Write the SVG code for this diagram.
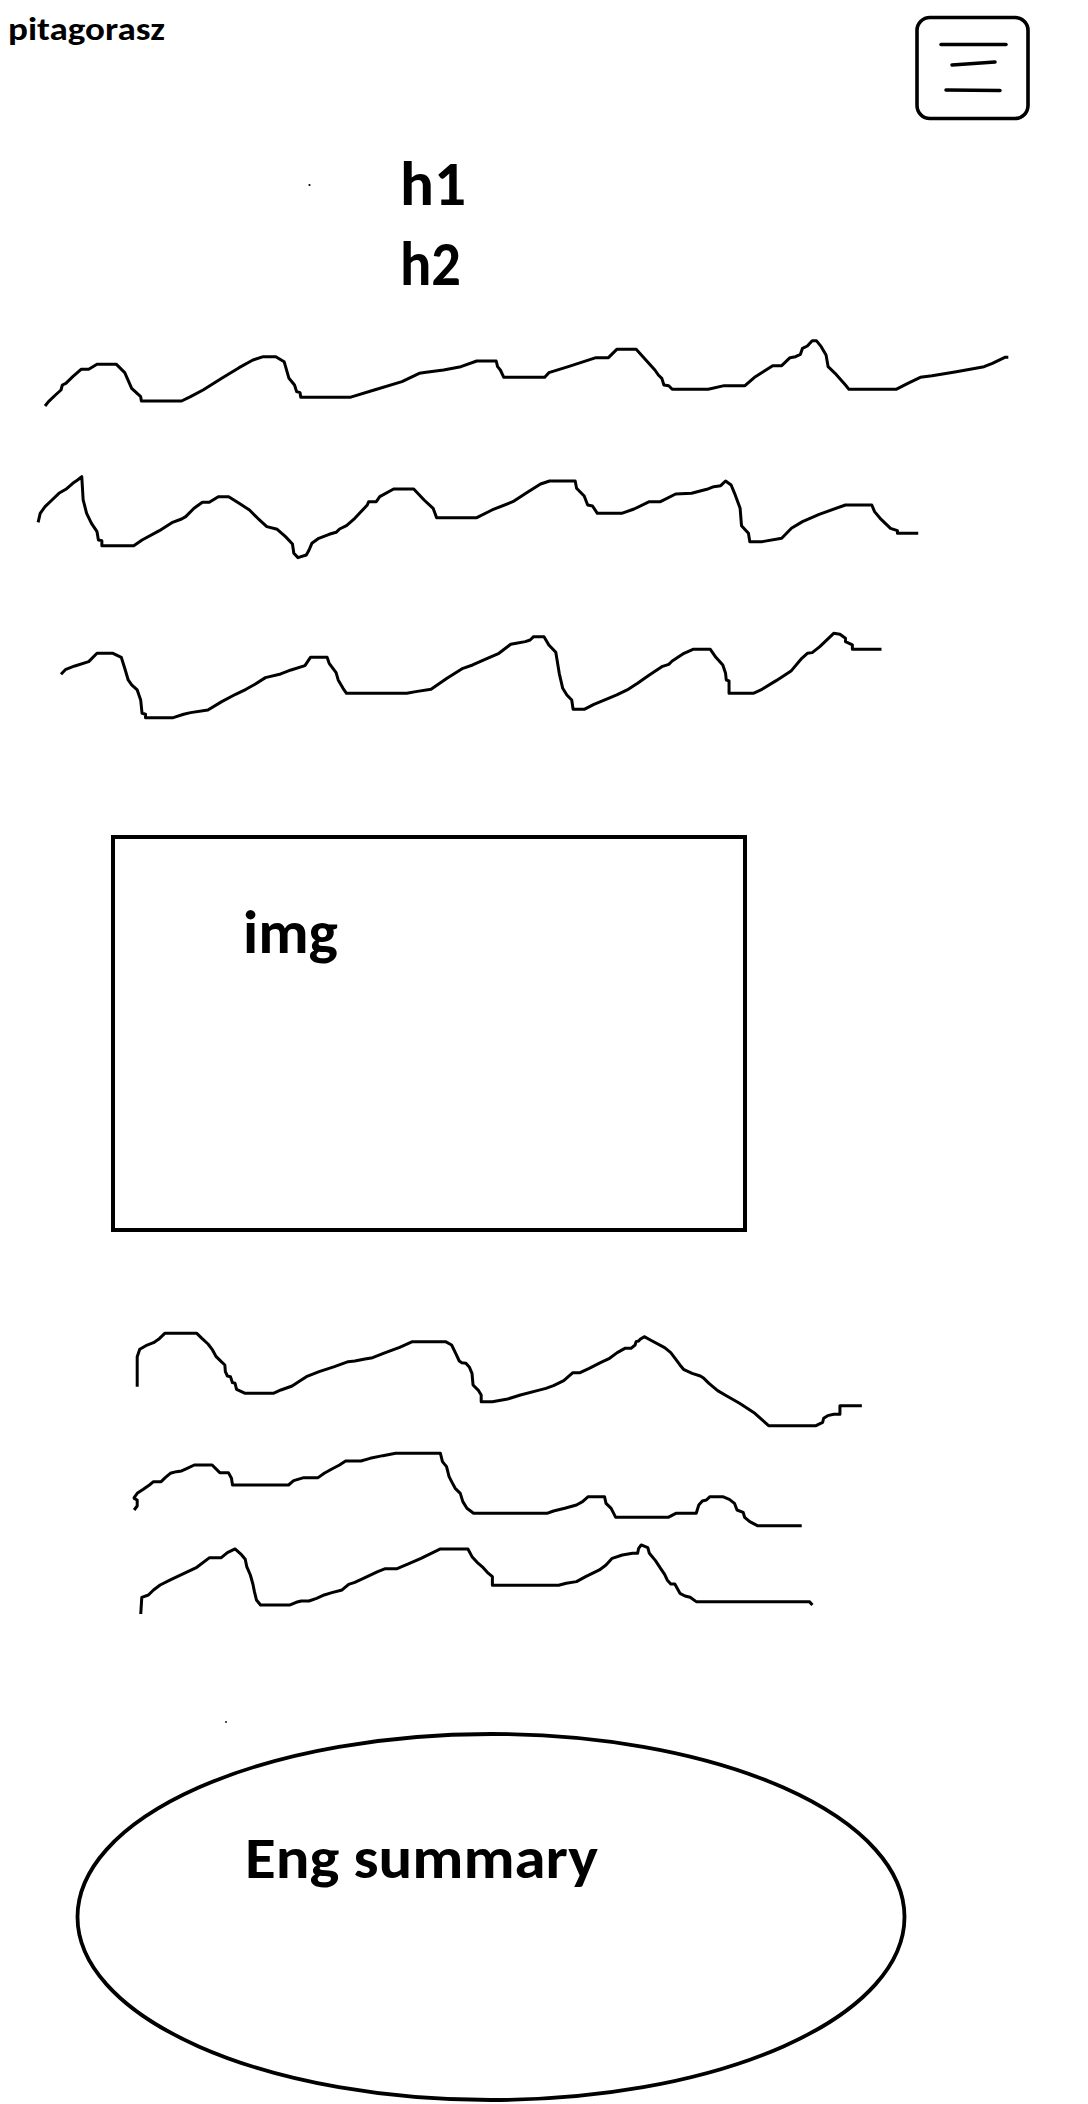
<svg xmlns="http://www.w3.org/2000/svg" width="1088" height="2104" viewBox="0 0 1088 2104">
<style>
.bg{fill:#ffffff}
.lbl{font-family:"Carlito","Lato","Liberation Sans",sans-serif;font-weight:700;fill:#000000}
.box{fill:none;stroke:#000000;stroke-width:4}
.scrib{fill:none;stroke:#000000;stroke-width:3;stroke-linejoin:round;stroke-linecap:butt;vector-effect:non-scaling-stroke}
.bar{fill:none;stroke:#000000;stroke-width:3.5;stroke-linecap:round}
</style>
<rect class="bg" x="0" y="0" width="1088" height="2104"/>

<g id="logo">
<text class="lbl" x="8" y="40" font-size="33" textLength="157" lengthAdjust="spacingAndGlyphs">pitagorasz</text>
</g>

<g id="menu">
<rect x="917" y="17.5" width="111" height="101" rx="13" ry="13" fill="none" stroke="#000" stroke-width="3.6"/>
<line class="bar" x1="941" y1="44.5" x2="1006" y2="44.5"/>
<line class="bar" x1="952" y1="65" x2="995" y2="62"/>
<line class="bar" x1="946" y1="90" x2="1000" y2="90.5"/>
</g>

<g id="h1">
<text class="lbl" x="400" y="205" font-size="62" textLength="66" lengthAdjust="spacingAndGlyphs">h1</text>
</g>
<g id="h2">
<text class="lbl" x="400" y="285" font-size="62" textLength="61" lengthAdjust="spacingAndGlyphs">h2</text>
</g>

<g id="dots">
<circle cx="309.5" cy="185" r="1.1" fill="#000"/>
<circle cx="226" cy="1722" r="0.9" fill="#000"/>
</g>

<g id="text-block-1" transform="translate(0,320) scale(0.693,0.3333)">
<path class="scrib" d="M65,258 L70,245 80,225 88,210 90,195 95,190 105,170 117,148 128,148 140,133 168,133 180,158 190,205 203,230 204,243 262,243 275,230 293,210 320,175 345,143 365,120 380,110 398,110 410,125 417,175 425,195 428,215 433,218 434,232 505,232 540,210 580,185 605,160 615,157 640,150 665,140 688,123 716,123 718,140 722,150 727,172 786,172 792,158 820,140 860,113 878,113 890,88 918,88 945,150 950,165 955,175 958,195 965,197 970,208 1022,208 1045,197 1075,197 1090,170 1115,137 1128,137 1140,113 1148,110 1155,103 1158,85 1165,78 1172,62 1178,62 1185,80 1192,105 1195,140 1205,160 1220,195 1225,208 1293,208 1310,190 1328,172 1345,167 1380,155 1420,140 1432,130 1450,112 1455,112"/>
<path class="scrib" d="M55,607 L58,580 65,560 75,540 85,520 95,508 105,490 112,480 118,470 120,540 125,580 132,610 140,635 142,660 147,662 147,677 193,677 205,660 230,632 248,608 262,597 268,590 280,565 292,547 302,547 315,530 330,530 345,550 360,570 372,595 385,620 400,628 412,650 422,672 424,700 430,713 442,705 446,690 450,670 460,655 475,643 485,637 490,627 500,617 512,595 530,555 532,545 543,545 548,530 568,507 597,507 612,540 625,565 630,593 688,593 710,570 740,545 760,518 780,492 793,483 830,483 832,505 843,528 848,555 855,558 862,580 897,580 915,567 937,545 953,545 975,522 998,520 1020,508 1030,500 1040,497 1047,483 1055,495 1060,520 1068,565 1070,617 1080,640 1082,665 1100,665 1128,655 1142,625 1158,605 1182,583 1220,555 1258,555 1262,575 1270,595 1285,625 1295,632 1295,640 1325,640"/>
<path class="scrib" d="M88,1063 L95,1048 108,1038 128,1025 140,1000 163,1000 175,1012 180,1045 185,1080 190,1095 198,1110 203,1140 205,1180 210,1183 210,1193 250,1193 265,1183 275,1178 300,1170 320,1145 340,1123 355,1108 368,1093 383,1073 405,1062 420,1050 440,1037 448,1012 472,1012 475,1030 485,1058 488,1080 495,1105 500,1120 587,1120 600,1115 622,1108 645,1075 668,1045 682,1035 700,1018 720,1000 737,973 745,970 758,965 765,960 770,950 785,950 792,975 802,997 807,1060 812,1105 818,1125 825,1140 827,1168 843,1168 857,1153 878,1135 890,1125 905,1110 920,1090 937,1065 955,1040 965,1033 970,1023 987,1000 1000,988 1025,988 1033,1012 1043,1035 1047,1060 1048,1080 1052,1083 1052,1120 1087,1120 1098,1110 1120,1082 1142,1052 1157,1015 1165,1000 1172,998 1183,980 1203,940 1212,943 1220,955 1220,965 1230,975 1230,988 1272,988"/>
</g>

<g id="image">
<rect class="box" x="113" y="837" width="632" height="393"/>
<text class="lbl" x="243" y="953" font-size="61" textLength="95" lengthAdjust="spacingAndGlyphs">img</text>
</g>

<g id="text-block-2" transform="translate(100,1310) scale(0.5096,0.3333)">
<path class="scrib" d="M73,230 L73,140 78,118 90,107 105,98 115,88 127,70 190,70 200,85 212,102 220,118 228,140 238,155 245,165 246,185 250,198 256,200 260,218 265,220 268,238 285,250 340,250 355,240 377,228 395,210 405,200 430,185 460,170 487,155 500,153 520,147 535,143 560,128 588,112 613,95 678,95 690,105 698,130 705,153 710,158 718,160 725,172 730,190 732,225 743,242 748,255 748,275 770,275 800,267 825,255 858,242 875,235 890,227 910,212 928,188 942,188 960,175 982,158 1000,145 1015,128 1030,115 1042,115 1050,105 1052,95 1057,93 1060,88 1068,80 1080,90 1108,113 1120,128 1130,148 1138,165 1145,178 1162,190 1178,198 1185,205 1195,220 1212,242 1230,258 1255,280 1270,295 1285,310 1312,347 1405,347 1418,337 1420,325 1428,317 1440,313 1452,313 1452,287 1495,287"/>
<path class="scrib" d="M67,600 L73,588 73,570 67,565 67,563 73,550 85,538 97,525 105,515 120,515 128,503 138,490 150,485 160,483 170,476 185,465 220,465 235,488 252,488 258,505 260,525 370,525 380,512 400,503 428,503 440,490 455,477 470,465 482,453 512,453 530,445 555,437 580,430 668,430 672,455 680,470 685,500 690,515 697,535 707,550 712,575 720,595 733,610 877,610 890,603 912,595 935,585 947,575 958,560 990,560 993,580 1003,595 1012,622 1115,622 1130,610 1170,610 1175,585 1182,573 1190,570 1197,560 1222,560 1235,568 1245,580 1250,600 1262,607 1265,622 1275,635 1290,647 1377,647"/>
<path class="scrib" d="M80,912 L82,862 95,855 105,840 118,825 140,808 165,790 190,772 215,743 238,743 250,728 265,717 278,735 285,748 288,770 295,795 300,822 303,845 307,870 315,885 373,885 385,877 395,873 410,873 425,865 440,855 455,848 475,840 488,823 500,817 520,803 545,785 560,776 583,776 605,762 630,745 650,730 668,717 722,717 730,740 740,757 752,773 760,787 770,800 770,826 900,826 915,820 935,815 953,800 980,780 993,765 1005,745 1025,735 1045,730 1055,730 1057,715 1062,705 1075,713 1078,730 1090,752 1100,775 1108,793 1113,810 1120,822 1128,822 1138,850 1148,858 1158,862 1170,875 1392,875 1398,885"/>
</g>

<g id="summary">
<ellipse cx="491" cy="1917" rx="413.5" ry="183" fill="none" stroke="#000" stroke-width="3.8"/>
<text class="lbl" x="245" y="1878" font-size="58" textLength="353" lengthAdjust="spacingAndGlyphs">Eng summary</text>
</g>

<g id="connectors"/>
</svg>
